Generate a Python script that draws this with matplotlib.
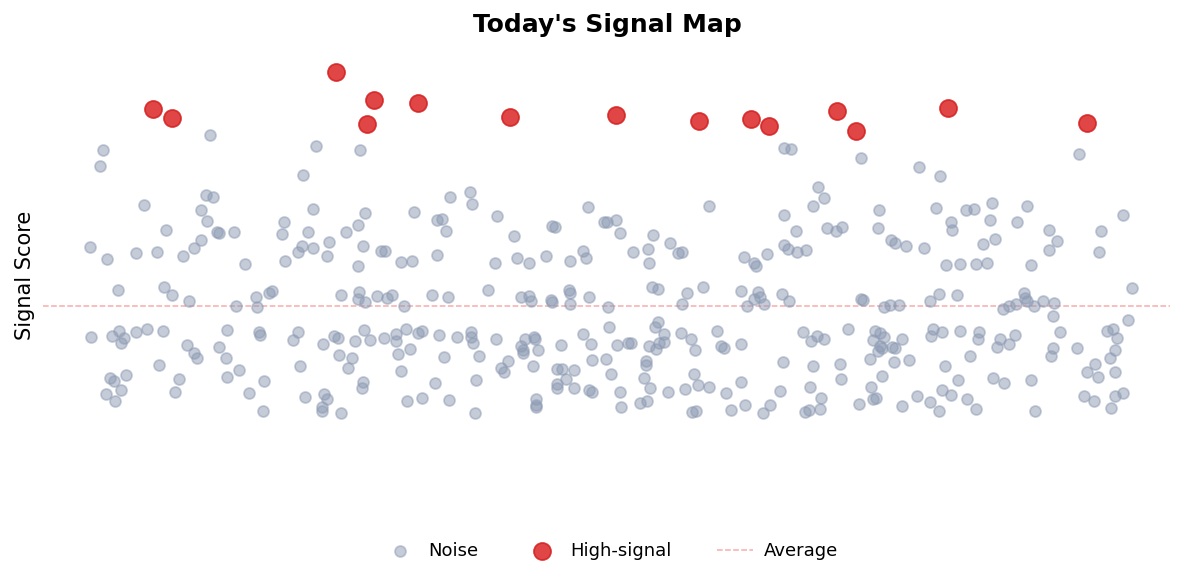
import matplotlib
matplotlib.use("Agg")
import matplotlib.pyplot as plt

# ---- data (x position, signal score) ----
noise_x = [
    210, 103, 100, 316, 303, 206, 213, 144, 201, 313, 207, 284, 166, 217, 219, 234, 282, 308, 346, 201, 329,
    90, 107, 136, 157, 183, 194, 245, 285, 298, 302, 313, 327, 118, 164, 172, 189, 236, 256, 257, 269, 272, 341,
    91, 112, 119, 124, 121, 136, 147, 163, 227, 259, 260, 298, 293, 323, 334, 338, 187, 194, 197, 219, 226, 339,
    352, 159, 300, 348, 110, 114, 126, 121, 106, 115, 179, 175, 227, 239, 264, 249, 263, 305, 324, 327, 322, 322, 341,
    360, 450, 470, 472, 414, 365, 358, 437, 442, 446, 497, 514, 552, 555, 588, 604, 607, 616, 620, 363,
    381, 385, 358, 401, 412, 437, 495, 517, 529, 546, 570, 583, 586,
    359, 358, 365, 377, 387, 392, 404, 432, 448, 488, 521, 529, 531, 551, 552, 569, 570, 570, 589, 608,
    364, 355, 370, 384, 396, 396, 406, 418, 422, 439, 457, 471, 471, 473, 496, 525, 534, 535, 521, 523, 523, 538,
    561, 583, 591, 609, 617, 398, 410, 444, 479, 508, 501, 504, 533, 557, 562, 574, 566, 592, 606, 611, 620, 621,
    401, 363, 362, 435, 476, 557, 557, 574, 589, 592, 407, 422, 449, 536, 536, 536, 475,
    784, 791, 861, 709, 818, 824, 813, 784, 796, 827, 836, 842, 879, 878, 891, 653,
    633, 648, 649, 670, 678, 682, 744, 754, 756, 767, 784, 788, 797, 806,
    652, 658, 687, 682, 703, 741, 747, 754, 758, 760, 764, 782, 789, 861, 863, 884, 890,
    658, 655, 664, 664, 659, 656, 649, 628, 631, 681, 691, 695, 717, 721, 724, 741, 803, 811, 817, 824, 848,
    875, 880, 884, 873, 880, 882, 878, 870, 892, 894, 646, 646, 644, 650, 640, 647, 668, 685, 694, 698, 709,
    692, 696, 726, 731, 741, 745, 763, 770, 780, 783, 813, 810, 821, 820, 805, 809, 840, 841, 859, 871, 873, 876, 882,
    1079, 919, 940, 936, 951, 952, 966, 974, 992, 990, 1017, 1027, 1049, 1057, 1101, 1123, 895, 906, 924, 983,
    995, 1049, 1099,
    946, 960, 976, 987, 1031, 899, 930, 939, 957, 1003, 1009, 1016, 1024, 1025, 1027, 1034, 1043, 1054, 1132,
    1053, 1128, 902, 933, 931, 942, 960, 979, 978, 1000, 997, 1009, 1015, 1060, 1053, 1051, 1077, 1107, 1113,
    1117, 1115, 1110, 909, 895, 945, 970, 958, 993, 1004, 1031, 1095, 1087, 1098, 1115, 942, 951, 917, 902, 930,
    939, 967, 976, 1035, 1084, 1094, 1115, 1123, 1111,
]
noise_y = [
    135, 150, 166, 146, 175, 195, 197, 205, 210, 209, 221, 222, 230, 232, 233, 232, 234, 232, 232, 240, 242,
    247, 259, 253, 252, 256, 248, 264, 261, 252, 246, 248, 256, 290, 287, 295, 301, 306, 297, 307, 293, 291, 295,
    337, 336, 331, 338, 343, 332, 329, 331, 330, 332, 335, 332, 340, 344, 336, 338, 345, 353, 358, 347, 358, 355,
    358, 365, 366, 368, 378, 381, 375, 390, 394, 401, 379, 392, 377, 370, 381, 393, 411, 397, 394, 399, 407, 411, 413,
    150, 197, 192, 204, 212, 213, 225, 220, 219, 231, 216, 236, 226, 227, 207, 222, 222, 220, 233, 246,
    251, 251, 266, 262, 261, 255, 263, 258, 263, 256, 261, 251, 258,
    292, 299, 302, 296, 298, 295, 306, 295, 297, 290, 297, 296, 301, 300, 302, 290, 293, 304, 297, 307,
    330, 341, 340, 338, 334, 341, 329, 333, 331, 335, 337, 332, 337, 343, 339, 339, 337, 339, 346, 350, 353, 350,
    345, 334, 344, 327, 345, 354, 349, 357, 356, 361, 368, 372, 366, 369, 369, 370, 379, 360, 359, 374, 392, 407,
    371, 382, 388, 383, 380, 384, 388, 388, 390, 392, 401, 398, 400, 399, 405, 407, 413,
    148, 149, 158, 206, 187, 198, 206, 215, 231, 228, 231, 227, 210, 228, 240, 235,
    252, 249, 263, 243, 253, 252, 257, 263, 266, 254, 245, 249, 252, 250,
    287, 289, 293, 304, 287, 291, 306, 299, 292, 297, 304, 294, 301, 299, 300, 307, 305,
    322, 327, 334, 342, 343, 349, 346, 343, 343, 333, 339, 350, 331, 346, 348, 344, 332, 341, 336, 339, 329,
    331, 333, 337, 340, 346, 348, 351, 359, 347, 362, 361, 365, 378, 388, 403, 401, 392, 389, 374, 385, 387,
    412, 411, 393, 410, 382, 405, 413, 405, 391, 362, 366, 387, 398, 409, 412, 410, 364, 379, 404, 387, 399, 398, 376,
    154, 167, 176, 208, 222, 230, 210, 209, 203, 220, 222, 206, 230, 241, 231, 215, 243, 246, 248, 244,
    239, 250, 252,
    265, 264, 264, 263, 265, 305, 301, 294, 295, 309, 306, 304, 293, 298, 301, 306, 301, 303, 288,
    316, 320, 339, 329, 336, 332, 331, 332, 339, 339, 347, 344, 335, 332, 348, 356, 348, 331, 329,
    338, 350, 358, 360, 348, 366, 356, 380, 378, 383, 380, 364, 372, 377, 372, 390, 395, 396, 406, 402,
    411, 399, 409, 411, 396, 401, 396, 393, 408,
]
signal_x = [153, 172, 336, 374, 367, 418, 510, 616, 699, 751, 769, 837, 856, 948, 1087]
signal_y = [109, 118, 72, 100, 124, 103, 117, 115, 121, 119, 126, 111, 131, 108, 123]
average_score = 306

labels = ["Noise", "High-signal", "Average"]
title = "Today's Signal Map"
ylabel = "Signal Score"

# ---- figure ----
W, H = 1185, 584
fig = plt.figure(figsize=(W / 100, H / 100), dpi=100)
ax_l, ax_r, ax_t, ax_b = 43, 1170, 40, 530
ax = fig.add_axes([ax_l / W, 1 - ax_b / H, (ax_r - ax_l) / W, (ax_b - ax_t) / H])
ax.set_xlim(ax_l, ax_r)
ax.set_ylim(ax_b, ax_t)

ax.scatter(noise_x, noise_y, s=62, c="#8c9ab3", alpha=0.5, edgecolors="#8c9ab3",
           linewidths=1.3, zorder=2, label=labels[0])
ax.scatter(signal_x, signal_y, s=150, c="#dc2626", alpha=0.85, edgecolors="#d42020",
           linewidths=1.3, zorder=3, label=labels[1])
ax.axhline(average_score, color="#ef4444", alpha=0.45, linewidth=1.1, linestyle="--",
           zorder=1, label=labels[2])

ax.set_xticks([])
ax.set_yticks([])
for sp in ax.spines.values():
    sp.set_visible(False)

fig.text(607 / W, 1 - 25 / H, title, ha="center", va="center", fontsize=18, fontweight="bold")
fig.text(25 / W, 1 - 275 / H, ylabel, ha="center", va="center", rotation=90, fontsize=15)

handles, labs = ax.get_legend_handles_labels()
fig.legend(handles, labs, loc="center", bbox_to_anchor=(610 / W, 1 - 551 / H), ncol=3,
           frameon=False, fontsize=13, columnspacing=2.5, handletextpad=0.6)

fig.savefig("out.png", dpi=100)
